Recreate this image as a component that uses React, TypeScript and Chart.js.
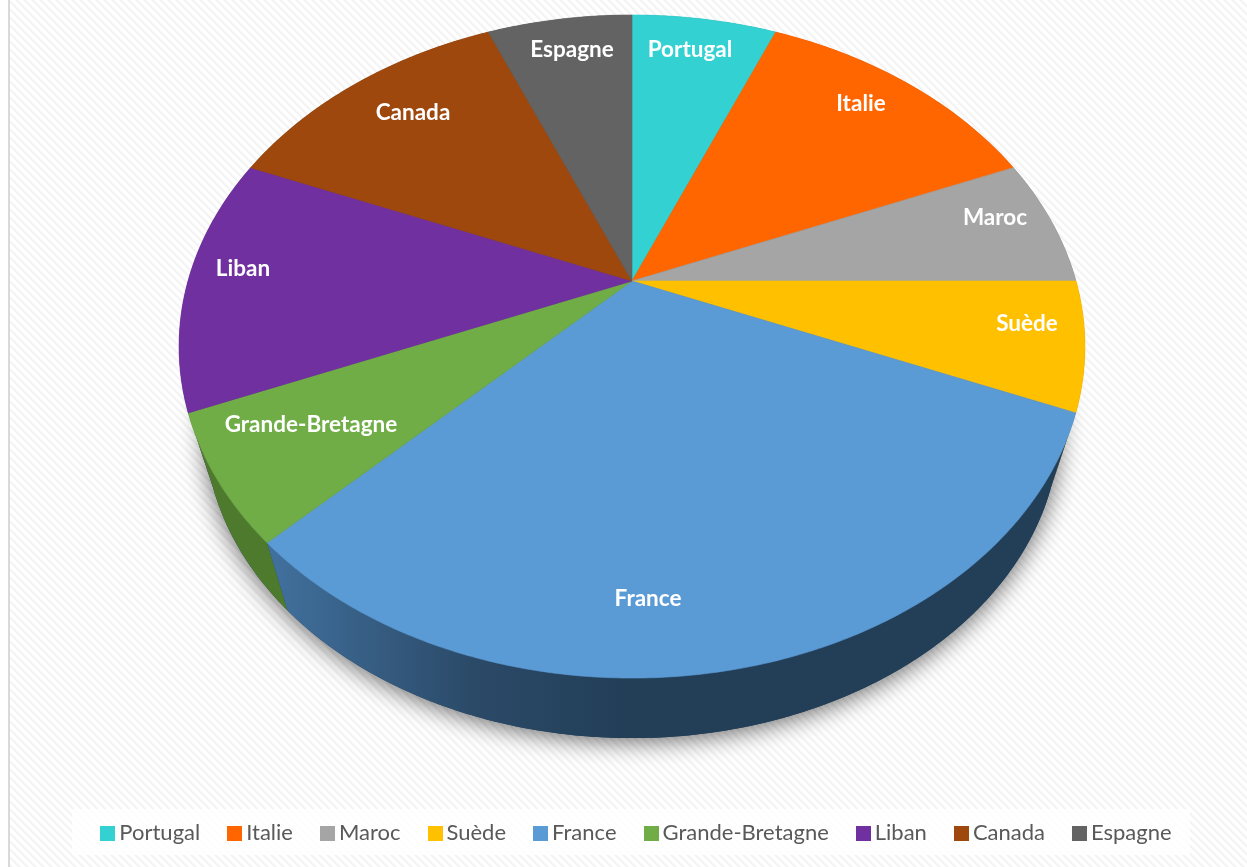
import React, { useEffect, useRef } from "react";
import { Chart, registerables } from "chart.js";

Chart.register(...registerables);

const categories = ["Portugal", "Italie", "Maroc", "Suède", "France", "Grande-Bretagne", "Liban", "Canada", "Espagne"];
const shares = [1, 2, 1, 1, 5, 1, 2, 2, 1];
const topColors = ["#33D1D1", "#FF6600", "#A5A5A5", "#FFC000", "#5B9BD5", "#70AD47", "#7030A0", "#9E480E", "#636363"];
const wallColors = ["#1f7d7d", "#993d00", "#636363", "#997300", "#2a4a68", "#4E7A2E", "#431d60", "#5f2c08", "#3b3b3b"];
const labelCentres = [
  [690, 50], [861, 104], [995, 218], [1027, 324], [648, 599], [311, 425], [243, 269], [413, 113], [572, 50],
];

const W = 1247;
const H = 867;
const CX = 632;
const CY = 281;
const RX = 444;
const RY = 318.6;
const PERSP = 0.1976;
const DEPTH = 0.056;
const VANISH_Y = 1750;

const project = (a: number) => {
  const x = Math.cos(a);
  const y = Math.sin(a);
  const w = 1 - PERSP * y;
  return [CX + (RX * x) / w, CY + (RY * y) / w];
};
const lower = (p: number[]) => [p[0] + DEPTH * (CX - p[0]), p[1] + DEPTH * (VANISH_Y - p[1])];

const samples = (a0: number, a1: number) => {
  const n = Math.max(2, Math.ceil((a1 - a0) / 0.01));
  const out: number[] = [];
  for (let i = 0; i <= n; i++) out.push(a0 + ((a1 - a0) * i) / n);
  return out;
};

const piePlugin = {
  id: "perspectivePie",
  beforeDraw(chart: any) {
    const ctx = chart.ctx;
    const tile = document.createElement("canvas");
    tile.width = 8;
    tile.height = 8;
    const t = tile.getContext("2d")!;
    for (let y = 0; y < 8; y++) {
      for (let x = 0; x < 8; x++) {
        const d = (x - y + 16) % 8;
        t.fillStyle = d < 2 ? "#f3f3f3" : d < 3 || d === 7 ? "#f9f9f9" : "#ffffff";
        t.fillRect(x, y, 1, 1);
      }
    }
    ctx.save();
    ctx.fillStyle = "#ffffff";
    ctx.fillRect(0, 0, W, H);
    ctx.fillStyle = ctx.createPattern(tile, "repeat");
    ctx.fillRect(10, 0, W - 10, H);
    ctx.fillStyle = "#d9d9d9";
    ctx.fillRect(8, 0, 2, H);
    ctx.fillStyle = "rgba(255,255,255,0.78)";
    ctx.fillRect(72, 809, 1118, 46);
    ctx.restore();
  },
  afterLayout(chart: any) {
    const legend = chart.legend;
    legend.top = 788;
    legend.bottom = 878;
  },
  beforeDatasetDraw(chart: any) {
    const ctx = chart.ctx;
    const arcs = chart.getDatasetMeta(0).data;
    ctx.save();
    // contact shadow of the lower disc
    ctx.save();
    ctx.shadowColor = "rgba(0,0,0,0.6)";
    ctx.shadowBlur = 24;
    ctx.shadowOffsetX = 0;
    ctx.shadowOffsetY = 3;
    ctx.fillStyle = "#233f58";
    ctx.beginPath();
    samples(0, Math.PI * 2).forEach((a, i) => {
      const p = lower(project(a));
      if (i) ctx.lineTo(p[0], p[1]);
      else ctx.moveTo(p[0], p[1]);
    });
    ctx.closePath();
    ctx.fill();
    ctx.restore();

    // side walls
    const order = arcs.map((_: any, i: number) => i).sort((i: number, j: number) => {
      const mid = (k: number) => Math.sin((arcs[k].startAngle + arcs[k].endAngle) / 2);
      return mid(i) - mid(j);
    });
    order.forEach((i: number) => {
      const arc = arcs[i];
      const as = samples(arc.startAngle, arc.endAngle);
      ctx.beginPath();
      as.forEach((a, n) => {
        const p = project(a);
        if (n) ctx.lineTo(p[0], p[1]);
        else ctx.moveTo(p[0], p[1]);
      });
      as.slice().reverse().forEach((a) => {
        const p = lower(project(a));
        ctx.lineTo(p[0], p[1]);
      });
      ctx.closePath();
      if (categories[i] === "France") {
        const g = ctx.createLinearGradient(268, 0, 640, 0);
        g.addColorStop(0, "#41719E");
        g.addColorStop(0.25, "#375F85");
        g.addColorStop(0.55, "#2B4A68");
        g.addColorStop(0.95, "#233F58");
        g.addColorStop(1, "#233F58");
        ctx.fillStyle = g;
      } else {
        ctx.fillStyle = wallColors[i];
      }
      ctx.fill();
    });

    // top surface
    arcs.forEach((arc: any, i: number) => {
      ctx.beginPath();
      ctx.moveTo(CX, CY);
      samples(arc.startAngle, arc.endAngle).forEach((a) => {
        const p = project(a);
        ctx.lineTo(p[0], p[1]);
      });
      ctx.closePath();
      ctx.fillStyle = topColors[i];
      ctx.fill();
      ctx.strokeStyle = topColors[i];
      ctx.lineWidth = 0.6;
      ctx.stroke();
    });
    ctx.restore();
    return false;
  },
  afterDatasetsDraw(chart: any) {
    const ctx = chart.ctx;
    ctx.save();
    ctx.font = "bold 22.5px Lato";
    ctx.fillStyle = "#ffffff";
    ctx.textAlign = "center";
    ctx.textBaseline = "middle";
    categories.forEach((c, i) => ctx.fillText(c, labelCentres[i][0], labelCentres[i][1]));
    ctx.restore();
  },
};

const swatch = (color: string) => {
  const c = document.createElement("canvas");
  c.width = 15;
  c.height = 15;
  const g = c.getContext("2d")!;
  g.fillStyle = color;
  g.fillRect(0, 0, 15, 15);
  return c;
};

export default function App() {
  const ref = useRef<HTMLCanvasElement>(null);
  useEffect(() => {
    document.body.style.margin = "0";
    document.body.style.overflow = "hidden";
    const chart = new Chart(ref.current!, {
      type: "pie",
      data: {
        labels: categories,
        datasets: [{ data: shares, backgroundColor: topColors, borderWidth: 0 }],
      },
      options: {
        responsive: false,
        animation: false,
        layout: { padding: { left: 32 } },
        plugins: {
          tooltip: { enabled: false },
          legend: {
            display: true,
            position: "bottom",
            labels: {
              usePointStyle: true,
              pointStyleWidth: 1,
              padding: 34,
              color: "#595959",
              font: { family: "Lato", size: 22 },
              generateLabels: () =>
                categories.map((text, i) => ({
                  text,
                  pointStyle: swatch(topColors[i]),
                  fillStyle: topColors[i],
                  strokeStyle: topColors[i],
                  fontColor: "#595959",
                  lineWidth: 0,
                  hidden: false,
                  index: i,
                })),
            },
          },
        },
      },
      plugins: [piePlugin],
    } as any);
    return () => chart.destroy();
  }, []);
  return <canvas ref={ref} width={W} height={H} style={{ display: "block", width: W, height: H }} />;
}
